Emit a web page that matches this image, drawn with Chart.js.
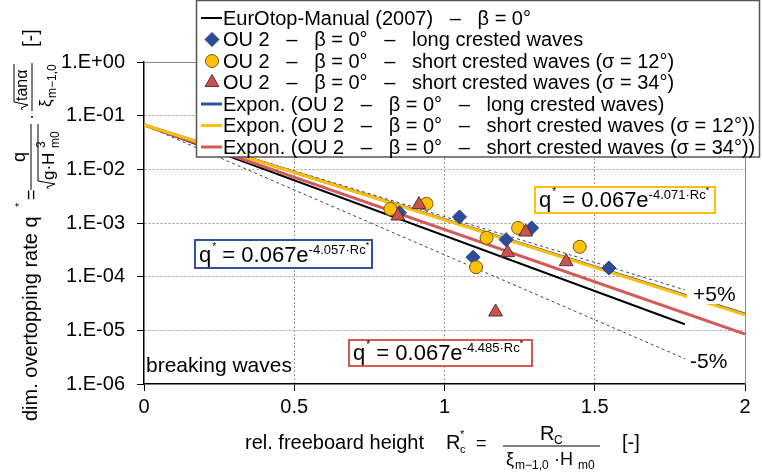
<!DOCTYPE html>
<html>
<head>
<meta charset="utf-8">
<title>Overtopping rate vs. relative freeboard</title>
<script src="https://cdn.jsdelivr.net/npm/chart.js@4.4.0/dist/chart.umd.min.js"></script>
<style>
  body { margin: 0; background: #fff; }
</style>
</head>
<body>
<canvas id="overtopChart" width="762" height="472"></canvas>
<script>
// measured points: rel. freeboard Rc* and dim. overtopping rate q*
const longRc = [0.85, 1.05, 1.095, 1.205, 1.29, 1.547];
const longQ = [1.55e-3, 1.3e-3, 2.3e-4, 4.9e-4, 8.1e-4, 1.45e-4];
const short12Rc = [0.82, 0.94, 1.105, 1.14, 1.245, 1.45];
const short12Q = [1.82e-3, 2.28e-3, 1.5e-4, 5.3e-4, 8.1e-4, 3.6e-4];
const short34Rc = [0.845, 0.915, 1.17, 1.21, 1.27, 1.405];
const short34Q = [1.35e-3, 2.2e-3, 2.2e-5, 2.8e-4, 6.8e-4, 1.9e-4];

// exponential trend lines  q* = a * exp(-b * Rc*)
const fitA = 0.067;
const fitB = [4.057, 4.071, 4.485];   // long crested, sigma 12, sigma 34
const eurotopB = 4.75;
const bandB = [3.93, 5.57];           // +5% / -5% bands
const fitRange = [0, 2];
const eurotopRange = [0, 1.8];

const xTicks = [0, 0.5, 1, 1.5, 2];
const xTickLabels = ['0', '0.5', '1', '1.5', '2'];
const yTicks = [1e-6, 1e-5, 1e-4, 1e-3, 1e-2, 1e-1, 1];
const yTickLabels = ['1.E-06', '1.E-05', '1.E-04', '1.E-03', '1.E-02', '1.E-01', '1.E+00'];

const FONT = "'Liberation Sans', Arial, sans-serif";
const BLUE = '#2F4F9F';
const YELLOW = '#FFC000';
const RED = '#D45A5A';

function lineData(b, range) {
  return range.map(rc => ({ x: rc, y: fitA * Math.exp(-b * rc) }));
}
function pointData(xs, ys) {
  return xs.map((x, i) => ({ x: x, y: ys[i] }));
}
function setFont(ctx, size) {
  ctx.font = size + 'px ' + FONT;
}

const datasets = [
  { label: 'EurOtop-Manual (2007)   –   β = 0°', data: lineData(eurotopB, eurotopRange),
    showLine: true, borderColor: '#000', borderWidth: 2, pointRadius: 0, order: 7, inLegend: true },
  { label: 'OU 2   –   β = 0°   –   long crested waves', data: pointData(longRc, longQ),
    pointStyle: 'rectRot', pointRadius: 7, backgroundColor: '#2E4B9C', borderColor: '#233d82',
    borderWidth: 1, order: 3, inLegend: true },
  { label: 'OU 2   –   β = 0°   –   short crested waves (σ = 12°)', data: pointData(short12Rc, short12Q),
    pointStyle: 'circle', pointRadius: 6.5, backgroundColor: YELLOW, borderColor: '#6d5a1c',
    borderWidth: 1, order: 2, inLegend: true },
  { label: 'OU 2   –   β = 0°   –   short crested waves (σ = 34°)', data: pointData(short34Rc, short34Q),
    pointStyle: 'triangle', pointRadius: 8, backgroundColor: '#CB534F', borderColor: '#5e2f2d',
    borderWidth: 1, order: 1, inLegend: true },
  { label: 'Expon. (OU 2   –   β = 0°   –   long crested waves)', data: lineData(fitB[0], fitRange),
    showLine: true, borderColor: BLUE, borderWidth: 3, pointRadius: 0, order: 5, inLegend: true },
  { label: 'Expon. (OU 2   –   β = 0°   –   short crested waves (σ = 12°))', data: lineData(fitB[1], fitRange),
    showLine: true, borderColor: YELLOW, borderWidth: 3, pointRadius: 0, order: 4, inLegend: true },
  { label: 'Expon. (OU 2   –   β = 0°   –   short crested waves (σ = 34°))', data: lineData(fitB[2], fitRange),
    showLine: true, borderColor: RED, borderWidth: 3, pointRadius: 0, order: 6, inLegend: true },
  { label: '+5%', data: lineData(bandB[0], eurotopRange),
    showLine: true, borderColor: '#444', borderWidth: 1, borderDash: [3, 3], pointRadius: 0, order: 8 },
  { label: '-5%', data: lineData(bandB[1], eurotopRange),
    showLine: true, borderColor: '#444', borderWidth: 1, borderDash: [3, 3], pointRadius: 0, order: 9 }
];

// small radical sign, drawn in whatever frame is active
function radical(ctx, x0, base, h, xEnd) {
  ctx.beginPath();
  ctx.moveTo(x0 - 9, base - h * 0.35);
  ctx.lineTo(x0 - 7, base - h * 0.45);
  ctx.lineTo(x0 - 4, base + 1);
  ctx.lineTo(x0 - 1, base - h);
  ctx.lineTo(xEnd, base - h);
  ctx.stroke();
}

function drawYTitle(ctx) {
  ctx.save();
  ctx.rotate(-Math.PI / 2);   // frame: u = -screenY, v = screenX
  ctx.fillStyle = '#000';
  ctx.strokeStyle = '#000';
  ctx.lineWidth = 1;
  ctx.textAlign = 'left';
  ctx.textBaseline = 'alphabetic';
  setFont(ctx, 20);
  ctx.fillText('dim. overtopping rate q', -421, 37);
  setFont(ctx, 11);
  ctx.fillText('*', -207, 23);
  setFont(ctx, 18);
  ctx.fillText('=', -200, 37);
  // q / sqrt(g·H³m0)
  ctx.beginPath();
  ctx.moveTo(-190, 31); ctx.lineTo(-124, 31); ctx.stroke();
  setFont(ctx, 18);
  ctx.textAlign = 'center';
  ctx.fillText('q', -157, 25);
  ctx.textAlign = 'left';
  radical(ctx, -180, 54, 16, -124);
  setFont(ctx, 17);
  ctx.fillText('g·H', -180, 54);
  setFont(ctx, 12);
  ctx.fillText('3', -148, 45);
  ctx.fillText('m0', -148, 59);
  // dot
  setFont(ctx, 18);
  ctx.fillText('·', -120, 37);
  // sqrt(tanα) / ξm-1,0
  ctx.beginPath();
  ctx.moveTo(-111, 32); ctx.lineTo(-63, 32); ctx.stroke();
  setFont(ctx, 16);
  radical(ctx, -101, 27, 13, -64);
  ctx.fillText('tanα', -101, 27);
  setFont(ctx, 17);
  ctx.fillText('ξ', -107, 51);
  setFont(ctx, 12);
  ctx.fillText('m−1,0', -98, 56);
  setFont(ctx, 20);
  ctx.fillText('[-]', -47, 37);
  ctx.restore();
}

function drawXTitle(ctx) {
  ctx.save();
  ctx.fillStyle = '#000';
  ctx.strokeStyle = '#000';
  ctx.lineWidth = 1;
  ctx.textAlign = 'left';
  ctx.textBaseline = 'alphabetic';
  setFont(ctx, 20);
  ctx.fillText('rel. freeboard height', 245, 449);
  ctx.fillText('R', 446, 449);
  setFont(ctx, 11);
  ctx.fillText('*', 460, 438);
  ctx.fillText('c', 460, 453);
  setFont(ctx, 18);
  ctx.fillText('=', 476, 449);
  ctx.beginPath();
  ctx.moveTo(503, 446); ctx.lineTo(600, 446); ctx.stroke();
  setFont(ctx, 20);
  ctx.fillText('R', 540, 440);
  setFont(ctx, 12);
  ctx.fillText('C', 554, 444);
  setFont(ctx, 18);
  ctx.fillText('ξ', 506, 465);
  setFont(ctx, 12);
  ctx.fillText('m−1,0', 515, 469);
  setFont(ctx, 18);
  ctx.fillText('·H', 554, 465);
  setFont(ctx, 12);
  ctx.fillText('m0', 578, 469);
  setFont(ctx, 20);
  ctx.fillText('[-]', 622, 449);
  ctx.restore();
}

function drawEquation(ctx, box, color, coef) {
  const [x, y, w, h] = box;
  ctx.fillStyle = '#fff';
  ctx.fillRect(x, y, w, h);
  ctx.strokeStyle = color;
  ctx.lineWidth = 2;
  ctx.strokeRect(x, y, w, h);
  ctx.fillStyle = '#000';
  ctx.textAlign = 'left';
  ctx.textBaseline = 'alphabetic';
  const base = y + h - 6;
  let cx = x + 4;
  setFont(ctx, 22);
  ctx.fillText('q', cx, base);
  cx += ctx.measureText('q').width;
  setFont(ctx, 10);
  ctx.fillText('*', cx + 1, base - 12);
  cx += 5;
  setFont(ctx, 22);
  ctx.fillText(' = 0.067e', cx, base);
  cx += ctx.measureText(' = 0.067e').width;
  setFont(ctx, 13);
  const exp = '-' + coef.toFixed(3) + '·Rc';
  ctx.fillText(exp, cx, base - 8);
  cx += ctx.measureText(exp).width;
  setFont(ctx, 9);
  ctx.fillText('*', cx, base - 14);
}

function drawLegend(chart) {
  const ctx = chart.ctx;
  ctx.save();
  ctx.fillStyle = '#fff';
  ctx.fillRect(196, 0, 564, 157);
  ctx.strokeStyle = '#555';
  ctx.lineWidth = 1.5;
  ctx.strokeRect(196.5, 0.5, 563, 156.5);
  let row = 0;
  chart.data.datasets.forEach(ds => {
    if (!ds.inLegend) return;
    const yy = 18 + row * 21.5;
    if (ds.showLine) {
      ctx.strokeStyle = ds.borderColor;
      ctx.lineWidth = ds.borderWidth === 2 ? 2 : 3;
      ctx.beginPath();
      ctx.moveTo(201, yy); ctx.lineTo(222, yy);
      ctx.stroke();
    } else {
      ctx.fillStyle = ds.backgroundColor;
      ctx.strokeStyle = ds.borderColor;
      ctx.lineWidth = ds.borderWidth;
      Chart.helpers.drawPoint(ctx, { pointStyle: ds.pointStyle, radius: ds.pointRadius, rotation: 0, borderWidth: ds.borderWidth }, 212, yy);
    }
    ctx.fillStyle = '#000';
    setFont(ctx, 20);
    ctx.textAlign = 'left';
    ctx.textBaseline = 'middle';
    ctx.fillText(ds.label, 223, yy + 1);
    row++;
  });
  ctx.restore();
}

const decorations = {
  id: 'decorations',
  beforeDatasetsDraw(chart) {
    const { ctx, chartArea: a } = chart;
    ctx.save();
    ctx.strokeStyle = '#8c8c8c';
    ctx.lineWidth = 1;
    ctx.beginPath();
    ctx.moveTo(a.left, a.top + 0.5); ctx.lineTo(a.right + 0.5, a.top + 0.5);
    ctx.lineTo(a.right + 0.5, a.bottom);
    ctx.stroke();
    ctx.restore();
  },
  afterDatasetsDraw(chart) {
    const ctx = chart.ctx;
    ctx.save();
    drawEquation(ctx, [195, 240, 177, 28], BLUE, fitB[0]);
    drawEquation(ctx, [535, 187, 180, 26], YELLOW, fitB[1]);
    drawEquation(ctx, [349, 340, 183, 26], RED, fitB[2]);

    // band labels
    ctx.fillStyle = '#fff';
    ctx.fillRect(687, 282, 54, 22);
    ctx.fillStyle = '#000';
    setFont(ctx, 21);
    ctx.textAlign = 'left';
    ctx.textBaseline = 'alphabetic';
    ctx.fillText('+5%', 693, 301);
    ctx.fillText('-5%', 690, 368);
    ctx.fillText('breaking waves', 146, 372);
    ctx.restore();

    drawLegend(chart);
    drawYTitle(ctx);
    drawXTitle(ctx);
  }
};

new Chart(document.getElementById('overtopChart'), {
  type: 'scatter',
  data: { datasets: datasets },
  options: {
    responsive: false,
    animation: false,
    layout: { padding: { left: 0, top: 62, right: 17, bottom: 0 } },
    plugins: { legend: { display: false }, tooltip: { enabled: false } },
    scales: {
      x: {
        type: 'linear', min: 0, max: 2,
        afterBuildTicks: s => { s.ticks = xTicks.map(v => ({ value: v })); },
        afterFit: s => { s.height = 88; },
        ticks: {
          callback: (v, i) => xTickLabels[i],
          font: { size: 20, family: FONT }, color: '#000', padding: 4, maxRotation: 0
        },
        grid: {
          color: c => (c.tick && (c.tick.value === 0 || c.tick.value === 2)) ? 'rgba(0,0,0,0)' : '#9a9a9a',
          tickColor: '#000', tickLength: 7, lineWidth: 1
        },
        border: { color: '#000', width: 1.5, dash: [2, 2] }
      },
      y: {
        type: 'logarithmic', min: 1e-6, max: 1,
        afterBuildTicks: s => { s.ticks = yTicks.map(v => ({ value: v })); },
        afterFit: s => { s.width = 144; },
        ticks: {
          callback: (v, i) => yTickLabels[i],
          font: { size: 20, family: FONT }, color: '#000', padding: 12
        },
        grid: {
          color: c => (c.tick && (c.tick.value === 1 || c.tick.value === 1e-6)) ? 'rgba(0,0,0,0)' : '#9a9a9a',
          tickColor: '#000', tickLength: 7, lineWidth: 1
        },
        border: { color: '#000', width: 1.5, dash: [2, 2] }
      }
    }
  },
  plugins: [decorations]
});
</script>
</body>
</html>
